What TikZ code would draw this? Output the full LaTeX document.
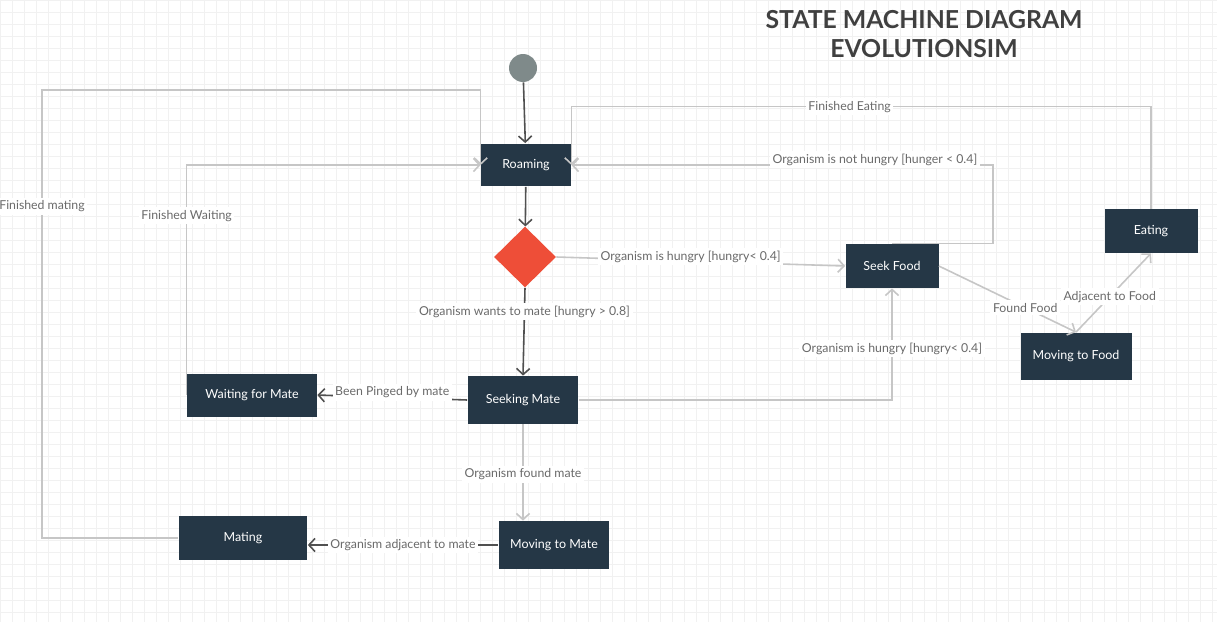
\documentclass[tikz,border=0pt]{standalone}
\usepackage{fontspec}
\setmainfont{Lato}
\usetikzlibrary{arrows.meta,shapes.geometric}
\definecolor{statefill}{HTML}{253746}
\definecolor{linedark}{HTML}{505050}
\definecolor{linelight}{HTML}{C6C6C6}
\definecolor{labeltext}{HTML}{6A6A6A}
\definecolor{titletext}{HTML}{404040}
\definecolor{startgray}{HTML}{7F8A8A}
\definecolor{choicered}{HTML}{EE4E38}
\definecolor{gridline}{HTML}{F1F1F1}
\tikzset{
    state-box/.style = {fill=statefill, text=white, rectangle, inner sep=0pt, font=\fontsize{7.1}{8.5}\selectfont},
    edge-label/.style = {fill=white, text=labeltext, inner sep=1.5pt, font=\fontsize{7.0}{8.5}\selectfont},
    dark-edge/.style = {draw=linedark, line width=0.9pt, -{Straight Barb[length=3.5pt,width=7.5pt]}},
    light-edge/.style = {draw=linelight, line width=0.9pt, -{Straight Barb[length=3.5pt,width=7.5pt]}},
}

\begin{document}
\begin{tikzpicture}[x=0.02cm, y=-0.02cm]
\useasboundingbox (0,0) rectangle (1217,622);
\fill[white] (0,0) rectangle (1217,622);
\draw[gridline, line width=0.3pt, step=0.24cm] (0cm,0cm) grid (24.34cm,-12.44cm);

\node[text=titletext, font=\bfseries\fontsize{14.1}{16.4}\selectfont, align=center] (title) at (924,34) {STATE MACHINE DIAGRAM\\EVOLUTIONSIM};

\node[circle, fill=startgray, minimum size=0.56cm, inner sep=0pt] (start) at (523,68) {};
\node[state-box, minimum width=1.8cm, minimum height=0.86cm] (roaming) at (526,165) {Roaming};
\node[diamond, fill=choicered, minimum width=1.24cm, minimum height=1.22cm, inner sep=0pt] (choice) at (525,257) {};
\node[state-box, minimum width=2.22cm, minimum height=0.96cm] (seekmate) at (523,400) {Seeking Mate};
\node[state-box, minimum width=2.6cm, minimum height=0.86cm] (waitmate) at (252,395) {Waiting for Mate};
\node[state-box, minimum width=2.58cm, minimum height=0.88cm] (mating) at (243,538) {Mating};
\node[state-box, minimum width=2.22cm, minimum height=0.96cm] (movemate) at (554,545) {Moving to Mate};
\node[state-box, minimum width=1.86cm, minimum height=0.88cm] (seekfood) at (892,266) {Seek Food};
\node[state-box, minimum width=1.86cm, minimum height=0.88cm] (eating) at (1151,231) {Eating};
\node[state-box, minimum width=2.22cm, minimum height=0.94cm] (movefood) at (1076,356) {Moving to Food};

\draw[dark-edge] (start) -- (roaming);
\draw[dark-edge] (roaming) -- (choice);
\draw[light-edge] (choice.east) -- node[edge-label, pos=0.465, yshift=2.5pt] {Organism is hungry [hungry< 0.4]} (seekfood.west);
\draw[dark-edge] (choice.south) -- node[edge-label, pos=0.27] {Organism wants to mate [hungry > 0.8]} (seekmate.north);
\draw[dark-edge] (seekmate.west) -- node[edge-label, yshift=3pt] {Been Pinged by mate} (waitmate.east);
\draw[light-edge] (seekmate.south) -- node[edge-label, pos=0.52] {Organism found mate} (seekmate.south |- movemate.north);
\draw[dark-edge] (movemate.west) -- node[edge-label] {Organism adjacent to mate} (mating.east |- movemate.west);
\draw[light-edge] (mating.west) -| node[edge-label, pos=0.87] {Finished mating} (42,90) -| (roaming.west);
\draw[light-edge] (waitmate.west) |- node[edge-label, pos=0.39] {Finished Waiting} (roaming.west);
\draw[light-edge] (seekmate.east) -| node[edge-label, pos=0.73] {Organism is hungry [hungry< 0.4]} (seekfood.south);
\draw[light-edge] (seekfood.north) -- ++(101,0) |- node[edge-label, pos=0.64, yshift=3pt] {Organism is not hungry [hunger < 0.4]} (roaming.east);
\draw[light-edge] (eating.north) -- ++(0,-102) -| node[edge-label, pos=0.26] {Finished Eating} (roaming.east);
\draw[light-edge] (seekfood.east) -- node[edge-label, pos=0.63] {Found Food} (movefood.north);
\draw[light-edge] (movefood.north) -- node[edge-label, pos=0.45] {Adjacent to Food} (eating.south);
\end{tikzpicture}
\end{document}
